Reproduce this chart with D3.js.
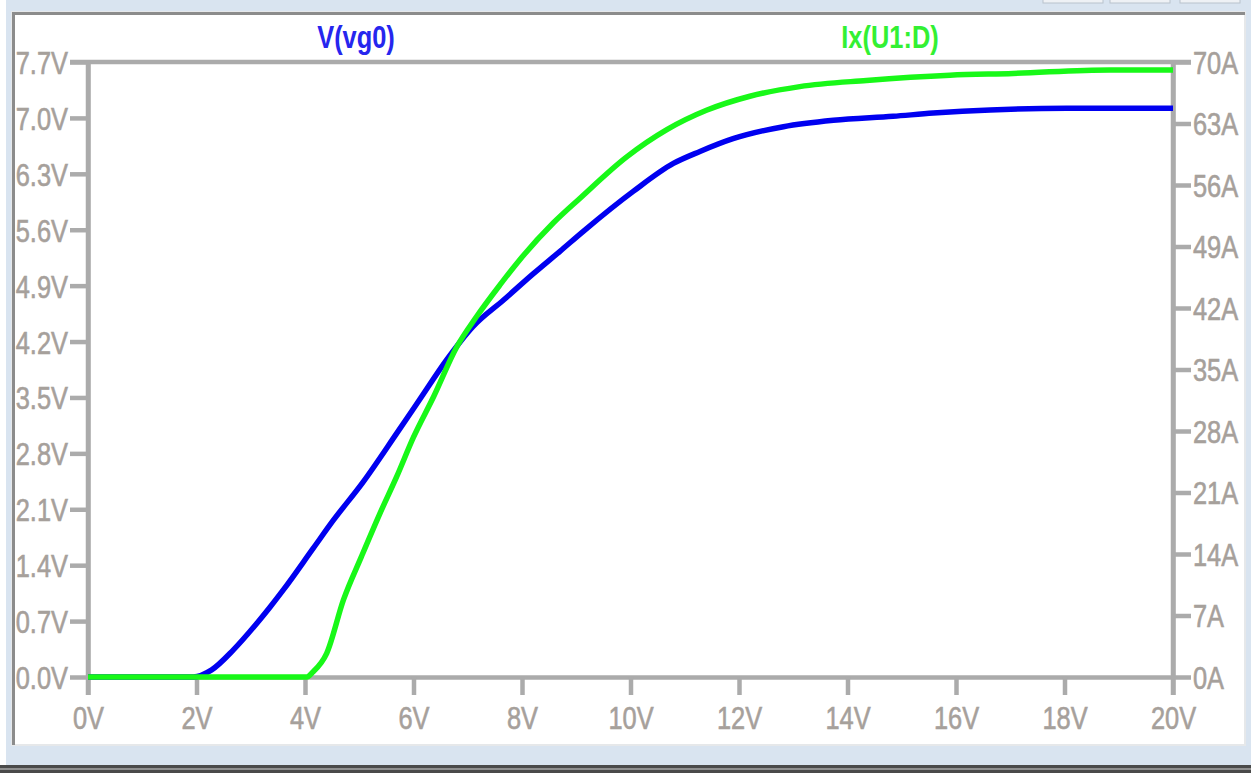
<!DOCTYPE html>
<html>
<head>
<meta charset="utf-8">
<script src="https://cdn.jsdelivr.net/npm/d3@7"></script>
<style>
  html, body { margin: 0; padding: 0; background: #fff; overflow: hidden; }
  svg { display: block; }
</style>
</head>
<body>
<script>
// DATA
// V(vg0) -- left axis, volts
var vgX = [0, 1.94, 2.28, 2.68, 3.11, 3.35, 3.60, 4.15, 4.52, 5.07, 5.69, 6.12, 6.61, 7.10, 7.66, 8.21, 8.70, 9.13, 10.05, 10.79, 11.28, 11.89, 12.82, 13.74, 14.84, 15.58, 16.63, 18.04, 20.0];
var vgY = [0, 0, 0.09, 0.34, 0.67, 0.87, 1.09, 1.61, 1.96, 2.44, 3.05, 3.48, 3.97, 4.39, 4.72, 5.05, 5.33, 5.58, 6.08, 6.43, 6.58, 6.74, 6.89, 6.97, 7.02, 7.06, 7.10, 7.12, 7.12];

// Ix(U1:D) -- right axis, amps
var idX = [0, 4.03, 4.15, 4.40, 4.71, 5.04, 5.38, 5.69, 6.00, 6.37, 6.80, 7.16, 7.59, 7.96, 8.58, 9.07, 9.93, 10.67, 11.40, 12.20, 13.12, 14.35, 15.89, 17.05, 18.84, 20.0];
var idY = [0, 0, 0.6, 2.7, 8.8, 13.7, 18.6, 22.8, 27.3, 31.9, 37.6, 41.0, 44.6, 47.5, 51.7, 54.5, 59.2, 62.3, 64.5, 66.1, 67.2, 67.9, 68.5, 68.7, 69.1, 69.1];

var xTicks = [0, 2, 4, 6, 8, 10, 12, 14, 16, 18, 20];
var leftTicks = [0, 0.7, 1.4, 2.1, 2.8, 3.5, 4.2, 4.9, 5.6, 6.3, 7.0, 7.7];
var rightTicks = [0, 7, 14, 21, 28, 35, 42, 49, 56, 63, 70];

var seriesNames = ["V(vg0)", "Ix(U1:D)"];

// D3
var W = 1251, H = 773;
var svg = d3.select("body").append("svg")
    .attr("width", W)
    .attr("height", H);

// window frame
svg.append("rect").attr("x", 6).attr("y", 0).attr("width", W - 6).attr("height", H).attr("fill", "#d9e4f0");
[[1043, 1103], [1110, 1170], [1180, 1240]].forEach(function(t) {
    svg.append("rect").attr("x", t[0]).attr("y", -3).attr("width", t[1] - t[0]).attr("height", 6)
        .attr("fill", "#eef1f5").attr("stroke", "#b9c2cc").attr("stroke-width", 1);
});
svg.append("rect").attr("x", 12).attr("y", 12).attr("width", 1233).attr("height", 733)
    .attr("fill", "#fff").attr("stroke", "#e6e8ea").attr("stroke-width", 2);
svg.append("path").attr("d", "M13.5,745 V13.5 H1245")
    .attr("fill", "none").attr("stroke", "#8c8c8c").attr("stroke-width", 3);
svg.append("rect").attr("x", 0).attr("y", 765).attr("width", W).attr("height", 8).attr("fill", "#4a4a4a");
svg.append("rect").attr("x", 0).attr("y", 768).attr("width", W).attr("height", 2).attr("fill", "#8f8f8f");

// scales
const x = d3.scaleLinear().domain([0, 20]).range([88, 1173]);
const yL = d3.scaleLinear().domain([0, 7.7]).range([677, 62]);
const yR = d3.scaleLinear().domain([0, 70]).range([677, 62]);

const axisCol = "#ababab";
const textCol = "#a6a09b";
const sx = 0.82; // narrow face

function styleAxis(g) {
    g.selectAll("line, path").attr("stroke", axisCol).attr("stroke-width", 4.5);
    g.selectAll("text").attr("fill", textCol)
        .attr("stroke", textCol).attr("stroke-width", 0.6)
        .attr("font-family", "'Liberation Sans', Arial, sans-serif")
        .attr("font-size", 31);
}

// top border line
svg.append("line").attr("x1", 70).attr("x2", 1191).attr("y1", 62).attr("y2", 62)
    .attr("stroke", axisCol).attr("stroke-width", 4.5);

const gx = svg.append("g").attr("transform", "translate(0,677)")
    .call(d3.axisBottom(x).tickValues(xTicks).tickSize(18).tickSizeOuter(0).tickFormat(d => d + "V"));
styleAxis(gx);
gx.selectAll("text").attr("y", 52).attr("dy", null)
    .attr("transform", "scale(" + sx + ",1)");

const gl = svg.append("g").attr("transform", "translate(88,0)")
    .call(d3.axisLeft(yL).tickValues(leftTicks).tickSize(18).tickSizeOuter(0).tickFormat(d3.format(".1f")));
styleAxis(gl);
gl.selectAll("text").text(d => d3.format(".1f")(d) + "V")
    .attr("x", -20 / sx).attr("dy", "0.37em")
    .attr("transform", "scale(" + sx + ",1)");

const gr = svg.append("g").attr("transform", "translate(1173,0)")
    .call(d3.axisRight(yR).tickValues(rightTicks).tickSize(18).tickSizeOuter(0).tickFormat(d => d + "A"));
styleAxis(gr);
gr.selectAll("text").attr("x", 20 / sx).attr("dy", "0.37em")
    .attr("transform", "scale(" + sx + ",1)");

// extend left and right axes down to the bottom tick
svg.append("line").attr("x1", 88).attr("x2", 88).attr("y1", 62).attr("y2", 695)
    .attr("stroke", axisCol).attr("stroke-width", 4.5);
svg.append("line").attr("x1", 1173).attr("x2", 1173).attr("y1", 62).attr("y2", 695)
    .attr("stroke", axisCol).attr("stroke-width", 4.5);

// traces
const lineL = d3.line().x(d => x(d[0])).y(d => yL(d[1])).curve(d3.curveMonotoneX);
const lineR = d3.line().x(d => x(d[0])).y(d => yR(d[1])).curve(d3.curveMonotoneX);

svg.append("path").datum(d3.zip(vgX, vgY))
    .attr("d", lineL).attr("fill", "none").attr("stroke", "#0000f0")
    .attr("stroke-width", 5.5).attr("stroke-linejoin", "round");

svg.append("path").datum(d3.zip(idX, idY))
    .attr("d", lineR).attr("fill", "none").attr("stroke", "#18f818")
    .attr("stroke-width", 5.5).attr("stroke-linejoin", "round");

// trace names
var legendPos = [356, 890];
var legendCol = ["#2626ee", "#33f033"];
seriesNames.forEach(function(n, i) {
    svg.append("g").attr("transform", "translate(" + legendPos[i] + ",48)")
        .append("text").attr("transform", "scale(" + sx + ",1)")
        .attr("text-anchor", "middle")
        .attr("font-family", "'Liberation Sans', Arial, sans-serif")
        .attr("font-size", 31).attr("font-weight", "bold")
        .attr("fill", legendCol[i]).text(n);
});
</script>
</body>
</html>
